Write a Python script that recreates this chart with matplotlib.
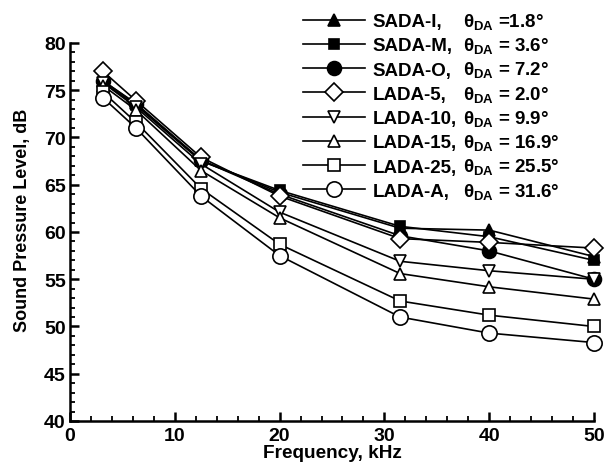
import matplotlib
matplotlib.use("Agg")
import matplotlib.pyplot as plt
from matplotlib.ticker import MultipleLocator

plt.rcParams['font.family'] = ['Liberation Sans', 'DejaVu Sans']
plt.rcParams['font.weight'] = 'bold'
plt.rcParams['mathtext.fontset'] = 'custom'
plt.rcParams['mathtext.rm'] = 'Liberation Sans'
plt.rcParams['mathtext.bf'] = 'Liberation Sans:bold'

# 1/3 octave centre frequencies, kHz
freq = [3.15, 6.3, 12.5, 20, 31.5, 40, 50]

sada_i = [76.0, 73.6, 67.6, 64.2, 60.4, 60.2, 57.4]
sada_m = [75.8, 73.4, 67.5, 64.4, 60.6, 59.5, 57.0]
sada_o = [76.0, 73.5, 67.6, 64.0, 59.6, 58.0, 55.0]
lada_5 = [77.0, 73.9, 67.9, 63.8, 59.3, 58.9, 58.3]
lada_10 = [75.8, 73.2, 67.2, 62.1, 56.9, 55.9, 55.0]
lada_15 = [75.5, 72.9, 66.5, 61.5, 55.6, 54.2, 52.9]
lada_25 = [74.8, 71.6, 64.6, 58.7, 52.7, 51.2, 50.0]
lada_a = [74.2, 71.0, 63.8, 57.5, 51.0, 49.3, 48.3]

names = ['SADA-I,', 'SADA-M,', 'SADA-O,', 'LADA-5,',
         'LADA-10,', 'LADA-15,', 'LADA-25,', 'LADA-A,']
angles = ['=1.8', '= 3.6', '= 7.2', '= 2.0', '= 9.9', '= 16.9', '= 25.5', '= 31.6']

series = [sada_i, sada_m, sada_o, lada_5, lada_10, lada_15, lada_25, lada_a]
markers = ['^', 's', 'o', 'D', 'v', '^', 's', 'o']
fills = ['k', 'k', 'k', 'w', 'w', 'w', 'w', 'w']
sizes = [8, 7.5, 10, 9, 9, 9, 8, 11]

fig = plt.figure(figsize=(6.05, 4.64), dpi=100)
ax = fig.add_axes([70 / 605, 1 - 422 / 464, 524 / 605, 378 / 464])

handles = []
for y, m, fc, ms in zip(series, markers, fills, sizes):
    h, = ax.plot(freq, y, color='k', lw=1.2, marker=m, ms=ms,
                 mfc=fc, mec='k', mew=1.2, clip_on=False)
    handles.append(h)

ax.set_xlim(0, 50)
ax.set_ylim(40, 80)
ax.xaxis.set_major_locator(MultipleLocator(10))
ax.xaxis.set_minor_locator(MultipleLocator(2))
ax.yaxis.set_major_locator(MultipleLocator(5))
ax.yaxis.set_minor_locator(MultipleLocator(1))
for s in ['top', 'right']:
    ax.spines[s].set_visible(False)
for s in ['left', 'bottom']:
    ax.spines[s].set_linewidth(1.8)
ax.tick_params(which='major', direction='in', length=6.5, width=1.8, labelsize=14)
ax.tick_params(axis='x', which='major', pad=4)
ax.tick_params(axis='y', which='major', pad=3)
ax.tick_params(which='minor', direction='in', length=3.6, width=1.3)
ax.set_xlabel('Frequency, kHz', fontsize=13.7, fontweight='bold')
ax.set_ylabel('Sound Pressure Level, dB', fontsize=13, fontweight='bold')
ax.xaxis.set_label_coords(0.5, (422 - 445) / 378)
ax.yaxis.set_label_coords((31 - 70) / 524, 0.534)

leg = fig.legend(handles, names, loc='upper left', bbox_to_anchor=(303 / 605, 1 - 14 / 464),
                 frameon=False, fontsize=13.5, handlelength=3.3, handletextpad=0.43,
                 labelspacing=0.38, borderpad=0, borderaxespad=0)

fig.canvas.draw()
H = fig.bbox.height
for t, a in zip(leg.get_texts(), angles):
    bb = t.get_window_extent()
    fig.text(463 / 605, (bb.y0 + bb.y1) / 2 / H,
             r'$\mathrm{\theta}_{\mathbf{DA}}$ ' + a + '\u00b0',
             fontsize=13.5, fontweight='bold', va='center', ha='left')

fig.savefig('out.png', dpi=100)
